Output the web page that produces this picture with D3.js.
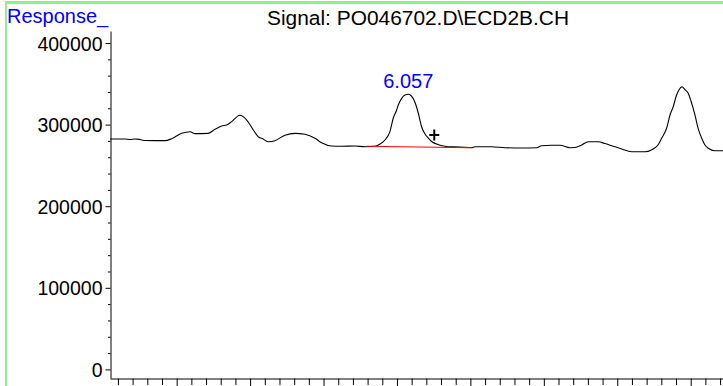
<!DOCTYPE html>
<html>
<head>
<meta charset="utf-8">
<script src="https://cdn.jsdelivr.net/npm/d3@7"></script>
<style>
  html, body { margin: 0; padding: 0; background: #ffffff; }
  svg { display: block; }
  text { font-family: "Liberation Sans", Arial, sans-serif; }
</style>
</head>
<body>
<svg id="chart" width="723" height="386"></svg>
<script>
// ---- data (time in minutes, response in counts) ----
const times = [4.046, 4.148, 4.182, 4.216, 4.250, 4.284, 4.352, 4.420, 4.466, 4.534,
  4.591, 4.625, 4.715, 4.761, 4.806, 4.840, 4.874, 4.931, 4.977, 5.022,
  5.060, 5.079, 5.124, 5.169, 5.237, 5.306, 5.374, 5.442, 5.487, 5.555,
  5.624, 5.714, 5.782, 5.850, 5.884, 5.918, 5.952, 5.975, 5.998, 6.009,
  6.032, 6.055, 6.077, 6.095, 6.123, 6.145, 6.168, 6.191, 6.213, 6.236,
  6.270, 6.300, 6.349, 6.429, 6.509, 6.531, 6.645, 6.735, 6.849, 6.951,
  6.985, 7.053, 7.110, 7.178, 7.212, 7.258, 7.303, 7.371, 7.416, 7.462,
  7.530, 7.598, 7.689, 7.745, 7.777, 7.802, 7.836, 7.859, 7.881, 7.904,
  7.920, 7.941, 7.961, 7.983, 8.002, 8.029, 8.050, 8.075, 8.097, 8.120,
  8.165, 8.220];
const responses = [282400, 282400, 281700, 282400, 281700, 280500, 280300, 280300, 282700, 289300,
  291300, 288900, 289300, 294200, 298300, 299500, 303600, 311400, 305600, 293400,
  284400, 283200, 279000, 280300, 286900, 289300, 288100, 283200, 277800, 273800,
  273400, 273800, 272900, 273400, 276200, 281100, 291300, 308100, 317900, 324000,
  332200, 336300, 337100, 335700, 327100, 314200, 297100, 288500, 283600, 279300,
  276200, 274400, 272900, 272600, 271700, 272900, 272900, 271700, 271300, 271700,
  274100, 274600, 274600, 271700, 271900, 275000, 279000, 279000, 276800, 274100,
  270100, 266800, 266800, 270100, 275000, 283200, 295500, 311800, 321900, 336300,
  342400, 346300, 343000, 338400, 328900, 311800, 295800, 283200, 275000, 271000,
  268000, 268000];

// integration baseline (red) and peak-end marker
const baselineTimes = [5.794, 6.501];
const baselineResponses = [273400, 271600];
const markerTime = [6.254];
const markerResponse = [287300];

const peakLabel = "6.057";
const titleText = "Signal: PO046702.D\\ECD2B.CH";
const yAxisLabel = "Response_";
const yTickValues = [0, 100000, 200000, 300000, 400000];
const xDomain = [4.046, 8.22];
const yDomain = [-10540, 414700];

// ---- drawing ----
const svg = d3.select("#chart");

// green frame
svg.append("rect").attr("x", 5).attr("y", 1).attr("width", 718).attr("height", 3).attr("fill", "#90ee90");
svg.append("rect").attr("x", 5).attr("y", 1).attr("width", 2).attr("height", 385).attr("fill", "#90ee90");

const x = d3.scaleLinear().domain(xDomain).range([110, 723]);
const y = d3.scaleLinear().domain(yDomain).range([378, 31]);

// y axis: minor ticks
const yMinor = d3.range(0, 400001, 20000).filter(v => v % 100000 !== 0);
svg.append("g")
  .attr("transform", "translate(110.5,0)")
  .call(d3.axisLeft(y).tickValues(yMinor).tickSize(2.5).tickSizeOuter(0).tickFormat(""))
  .call(g => g.select(".domain").attr("stroke", "#000"))
  .call(g => g.selectAll(".tick line").attr("stroke", "#000"));

// y axis: major ticks + labels
svg.append("g")
  .attr("transform", "translate(110.5,0)")
  .call(d3.axisLeft(y).tickValues(yTickValues).tickSize(5).tickSizeOuter(0).tickPadding(3).tickFormat(d3.format("d")))
  .call(g => g.select(".domain").remove())
  .call(g => g.selectAll(".tick line").attr("stroke", "#000"))
  .call(g => g.selectAll(".tick text")
    .attr("fill", "#000")
    .attr("font-size", "19.5px")
    .attr("font-family", "'Liberation Sans', Arial, sans-serif")
    .attr("dy", "0.36em"));

// x axis: minor + major ticks (labels fall outside the picture)
const xMinor = d3.range(41, 83).map(v => v / 10).filter(v => Math.round(v * 10) % 5 !== 0);
const xMajor = d3.range(45, 83, 5).map(v => v / 10);
svg.append("g")
  .attr("transform", "translate(0,378.5)")
  .call(d3.axisBottom(x).tickValues(xMinor).tickSize(6.5).tickSizeOuter(0).tickFormat(""))
  .call(g => g.select(".domain").attr("stroke", "#000"))
  .call(g => g.selectAll(".tick line").attr("stroke", "#000"));
svg.append("g")
  .attr("transform", "translate(0,378.5)")
  .call(d3.axisBottom(x).tickValues(xMajor).tickSize(12).tickSizeOuter(0).tickFormat(""))
  .call(g => g.select(".domain").remove())
  .call(g => g.selectAll(".tick line").attr("stroke", "#000"));

// chromatogram trace
const pts = times.map((t, i) => [t, responses[i]]);
const line = d3.line().x(d => x(d[0])).y(d => y(d[1])).curve(d3.curveMonotoneX);
svg.append("path")
  .datum(pts)
  .attr("d", line)
  .attr("fill", "none")
  .attr("stroke", "#000")
  .attr("stroke-width", 1.1)
  .attr("stroke-linejoin", "round");

// baseline
svg.append("path")
  .datum(baselineTimes.map((t, i) => [t, baselineResponses[i]]))
  .attr("d", d3.line().x(d => x(d[0])).y(d => y(d[1])))
  .attr("stroke", "#ff0000")
  .attr("stroke-width", 1.1)
  .attr("fill", "none");

// "+" marker
const mx = x(markerTime[0]), my = y(markerResponse[0]);
svg.append("path")
  .attr("d", `M${mx - 5},${my}H${mx + 5}M${mx},${my - 5.5}V${my + 5.5}`)
  .attr("stroke", "#000")
  .attr("stroke-width", 2)
  .attr("fill", "none");

// peak label at apex
const peakPts = pts.filter(d => d[0] > 5.8 && d[0] < 6.3);
const apex = peakPts.reduce((a, b) => (b[1] > a[1] ? b : a));
svg.append("text")
  .attr("x", x(apex[0]))
  .attr("y", y(apex[1]) - 6)
  .attr("text-anchor", "middle")
  .attr("font-size", "20px")
  .attr("fill", "#0000ff")
  .text(peakLabel);

// title and y label
svg.append("text")
  .attr("x", 418)
  .attr("y", 25)
  .attr("text-anchor", "middle")
  .attr("font-size", "20px")
  .attr("fill", "#000")
  .attr("textLength", 302)
  .attr("lengthAdjust", "spacingAndGlyphs")
  .text(titleText);

svg.append("text")
  .attr("x", 7)
  .attr("y", 22.5)
  .attr("font-size", "20px")
  .attr("fill", "#0000ff")
  .text(yAxisLabel);
</script>
</body>
</html>
